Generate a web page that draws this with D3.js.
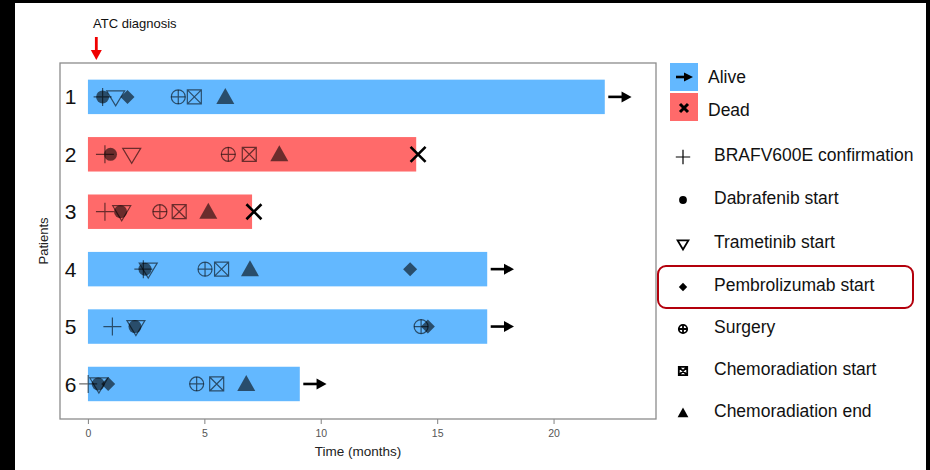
<!DOCTYPE html>
<html>
<head>
<meta charset="utf-8">
<script src="https://cdn.jsdelivr.net/npm/d3@7"></script>
<style>
  html, body { margin: 0; padding: 0; background: #000; }
  svg { display: block; }
  text { font-family: "Liberation Sans", Arial, sans-serif; }
</style>
</head>
<body>
<svg id="chart" width="930" height="470"></svg>
<script>
// Swimmer plot: follow-up time per patient with treatment milestones
const patients = [1, 2, 3, 4, 5, 6];
const followUp = [22.2, 14.1, 7.05, 17.15, 17.15, 9.1];
const status = ["Alive", "Dead", "Dead", "Alive", "Alive", "Alive"];

// Event times in months (null = event did not occur)
const brafConfirmation = [0.63, 0.73, 0.73, 2.38, 1.05, 0.01];
const dabrafenibStart = [0.63, 0.97, 1.40, 2.45, 2.02, 0.44];
const trametinibStart = [1.19, 1.88, 1.45, 2.59, 2.06, 0.47];
const pembrolizumabStart = [1.70, null, null, 13.84, 14.60, 0.87];
const surgery = [3.88, 6.03, 3.09, 5.03, 14.31, 4.67];
const chemoradiationStart = [4.57, 6.93, 3.92, 5.74, null, 5.53];
const chemoradiationEnd = [5.90, 8.22, 5.17, 6.96, null, 6.80];

const xTicks = [0, 5, 10, 15, 20];
const diagnosisTime = 0.36;

const eventTypes = [
  { key: "plus", label: "BRAFV600E confirmation", times: brafConfirmation },
  { key: "dot", label: "Dabrafenib start", times: dabrafenibStart },
  { key: "tridown", label: "Trametinib start", times: trametinibStart },
  { key: "diamond", label: "Pembrolizumab start", times: pembrolizumabStart },
  { key: "surgery", label: "Surgery", times: surgery },
  { key: "box", label: "Chemoradiation start", times: chemoradiationStart },
  { key: "triup", label: "Chemoradiation end", times: chemoradiationEnd }
];

const statusColor = { Alive: "#63B8FF", Dead: "#FF6A6A" };
const markColor = "rgba(0,0,0,0.58)";

const svg = d3.select("#chart");

// white canvas inside the dark frame
svg.append("rect").attr("x", 15).attr("y", 3).attr("width", 911).attr("height", 467).attr("fill", "#fff");

const panel = { left: 60, right: 656, top: 63, bottom: 419 };
const x = d3.scaleLinear().domain([-1.2, 24.4]).range([panel.left, panel.right]);
const y = d3.scaleLinear().domain([0.41, 6.61]).range([panel.top, panel.bottom]);
const barH = y(0.3) - y(0);

// draw a marker shape centred at the origin of g
function drawShape(g, key, s, color) {
  const sw = 1.2;
  if (key === "plus") {
    g.append("path").attr("d", `M${-9*s},0H${9*s}M0,${-9*s}V${9*s}`)
      .attr("stroke", color).attr("stroke-width", sw).attr("fill", "none");
  } else if (key === "dot") {
    g.append("circle").attr("r", 6.5 * s).attr("fill", color);
  } else if (key === "tridown") {
    g.append("path").attr("d", `M${-9*s},${-6*s}L${9*s},${-6*s}L0,${9*s}Z`)
      .attr("stroke", color).attr("stroke-width", sw).attr("fill", "none");
  } else if (key === "diamond") {
    g.append("path").attr("d", `M0,${-7*s}L${7*s},0L0,${7*s}L${-7*s},0Z`).attr("fill", color);
  } else if (key === "surgery") {
    g.append("circle").attr("r", 7 * s).attr("stroke", color).attr("stroke-width", sw).attr("fill", "none");
    g.append("path").attr("d", `M${-7*s},0H${7*s}M0,${-7*s}V${7*s}`)
      .attr("stroke", color).attr("stroke-width", sw).attr("fill", "none");
  } else if (key === "box") {
    g.append("path").attr("d", `M${-7*s},${-7*s}H${7*s}V${7*s}H${-7*s}ZM${-7*s},${-7*s}L${7*s},${7*s}M${7*s},${-7*s}L${-7*s},${7*s}`)
      .attr("stroke", color).attr("stroke-width", sw).attr("fill", "none");
  } else if (key === "triup") {
    g.append("path").attr("d", `M${-9*s},${7*s}L${9*s},${7*s}L0,${-9*s}Z`).attr("fill", color);
  }
}

// bars
const rows = patients.map((p, i) => ({ p, end: followUp[i], status: status[i] }));
svg.append("g").selectAll("rect").data(rows).join("rect")
  .attr("x", x(0)).attr("y", d => y(d.p) - barH)
  .attr("width", d => x(d.end) - x(0)).attr("height", 2 * barH)
  .attr("fill", d => statusColor[d.status]);

// patient labels inside panel
svg.append("g").selectAll("text").data(rows).join("text")
  .attr("x", x(-0.75)).attr("y", d => y(d.p)).attr("dy", "0.36em")
  .attr("text-anchor", "middle").attr("font-size", 21).attr("fill", "#111")
  .text(d => d.p);

// event markers
const mg = svg.append("g");
eventTypes.forEach(ev => {
  ev.times.forEach((t, i) => {
    if (t == null) return;
    const g = mg.append("g").attr("transform", `translate(${x(t)},${y(patients[i])})`);
    drawShape(g, ev.key, 1, markColor);
  });
});

// outcome marks: arrow for alive, cross for dead
const arrowHead = "M0,-5.5L10,0L0,5.5Z";
rows.forEach(d => {
  const cy = y(d.p);
  if (d.status === "Alive") {
    const x0 = x(d.end + 0.15), x1 = x(d.end + 1.15);
    svg.append("line").attr("x1", x0).attr("x2", x1 - 8).attr("y1", cy).attr("y2", cy)
      .attr("stroke", "#000").attr("stroke-width", 2.6);
    svg.append("path").attr("d", arrowHead).attr("transform", `translate(${x1 - 10},${cy})`).attr("fill", "#000");
  } else {
    const cx = x(d.end + 0.08);
    svg.append("path").attr("d", "M-7.5,-7.5L7.5,7.5M7.5,-7.5L-7.5,7.5")
      .attr("transform", `translate(${cx},${cy})`)
      .attr("stroke", "#000").attr("stroke-width", 2.6).attr("fill", "none");
  }
});

// panel border
svg.append("rect").attr("x", panel.left).attr("y", panel.top)
  .attr("width", panel.right - panel.left).attr("height", panel.bottom - panel.top)
  .attr("fill", "none").attr("stroke", "#8c8c8c").attr("stroke-width", 1.3);

// x axis
const xAxis = svg.append("g").attr("transform", `translate(0,${panel.bottom})`)
  .call(d3.axisBottom(x).tickValues(xTicks).tickSize(5).tickPadding(6).tickFormat(d3.format("d")));
xAxis.select(".domain").remove();
xAxis.selectAll(".tick line").attr("stroke", "#8c8c8c").attr("stroke-width", 1.1);
xAxis.selectAll(".tick text").attr("fill", "#555").attr("font-size", 10.5)
  .attr("font-family", "'Liberation Sans Narrow', 'Liberation Sans', Arial, sans-serif");

svg.append("text").attr("x", (panel.left + panel.right) / 2).attr("y", 456)
  .attr("text-anchor", "middle").attr("font-size", 13.5).attr("fill", "#222")
  .attr("font-family", "'Liberation Sans Narrow', 'Liberation Sans', Arial, sans-serif")
  .text("Time (months)");

svg.append("text").attr("transform", `translate(48,${(panel.top + panel.bottom) / 2}) rotate(-90)`)
  .attr("text-anchor", "middle").attr("font-size", 13).attr("fill", "#222")
  .attr("font-family", "'Liberation Sans Narrow', 'Liberation Sans', Arial, sans-serif")
  .text("Patients");

// diagnosis annotation
svg.append("text").attr("x", 93).attr("y", 28).attr("font-size", 13).attr("fill", "#111")
  .text("ATC diagnosis");
const ax = x(diagnosisTime);
svg.append("line").attr("x1", ax).attr("x2", ax).attr("y1", 37).attr("y2", 52)
  .attr("stroke", "#f00000").attr("stroke-width", 2.8);
svg.append("path").attr("d", `M${ax - 5.5},50L${ax + 5.5},50L${ax},60Z`).attr("fill", "#f00000");

// legend: status keys
const lg = svg.append("g");
[["Alive", 63, 77], ["Dead", 93, 110]].forEach(([s, top, ty]) => {
  lg.append("rect").attr("x", 670).attr("y", top).attr("width", 28).attr("height", 28).attr("fill", statusColor[s]);
  lg.append("text").attr("x", 708).attr("y", ty).attr("dy", "0.36em")
    .attr("font-size", 17.5).attr("fill", "#111").text(s);
});
lg.append("line").attr("x1", 676).attr("x2", 686).attr("y1", 77).attr("y2", 77).attr("stroke", "#000").attr("stroke-width", 2.6);
lg.append("path").attr("d", "M0,-4.5L9,0L0,4.5Z").attr("transform", "translate(684,77)").attr("fill", "#000");
lg.append("path").attr("d", "M-4,-4L4,4M4,-4L-4,4").attr("transform", "translate(684,108)")
  .attr("stroke", "#000").attr("stroke-width", 3).attr("fill", "none");

// legend: event symbols
const legendY = [157, 200, 244, 287, 329, 371, 413];
eventTypes.forEach((ev, i) => {
  const g = lg.append("g").attr("transform", `translate(683,${legendY[i]})`);
  const sc = ev.key === "plus" ? 0.8 : 0.6;
  drawShape(g, ev.key, sc, "#000");
  if (ev.key !== "plus" && ev.key !== "dot" && ev.key !== "diamond" && ev.key !== "triup") {
    g.selectAll("path, circle").attr("stroke-width", 1.8);
  }
  lg.append("text").attr("x", 714).attr("y", legendY[i] - 2).attr("dy", "0.36em")
    .attr("font-size", 17.5).attr("fill", "#111").text(ev.label);
});

// highlight box around the pembrolizumab entry
lg.append("rect").attr("x", 658).attr("y", 266).attr("width", 255).attr("height", 42)
  .attr("rx", 8).attr("ry", 8).attr("fill", "none").attr("stroke", "#b3000c").attr("stroke-width", 2);
</script>
</body>
</html>
